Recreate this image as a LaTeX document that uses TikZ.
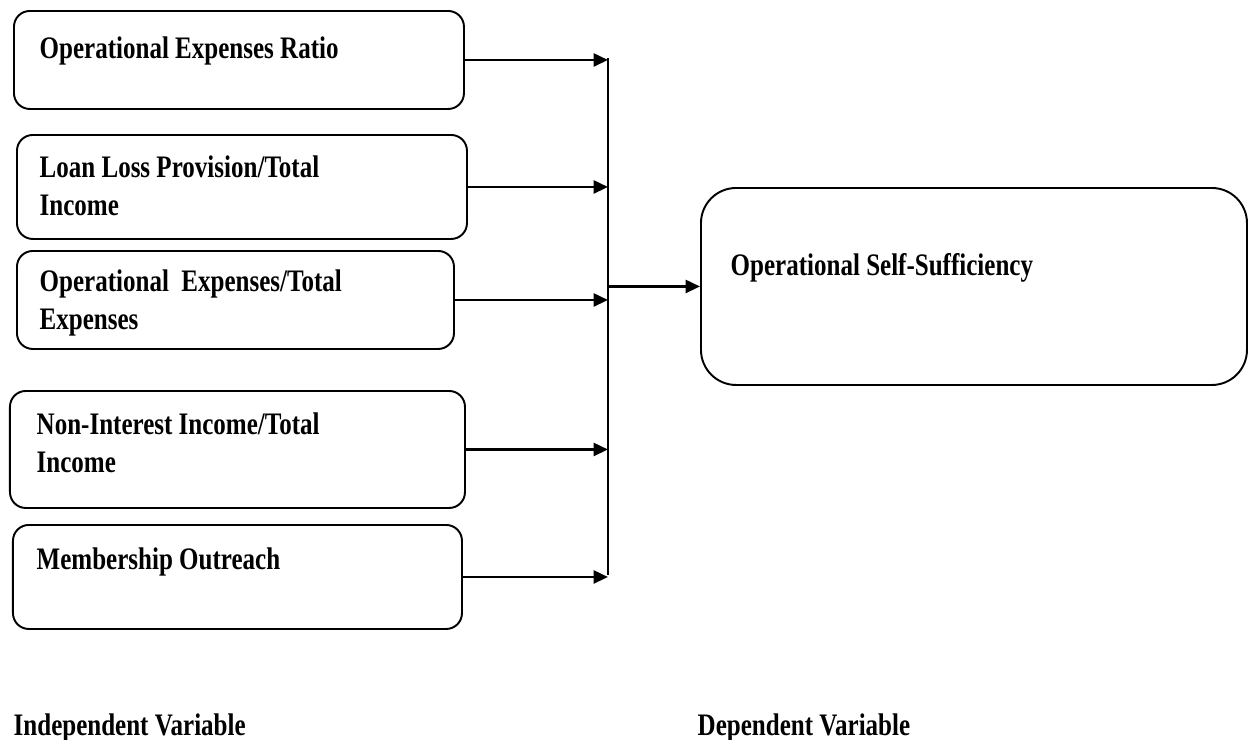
\documentclass[tikz,border=0pt]{standalone}
\usepackage{fontspec}
\setmainfont{Liberation Serif}[FakeStretch=0.8]
\usetikzlibrary{arrows.meta, positioning, calc}

\begin{document}
\begin{tikzpicture}[font=\fontsize{8.9}{10.6}\selectfont\bfseries,
    varbox/.style={draw, line width=0.55pt, rounded corners=4.5pt, anchor=north west, inner sep=0pt},
    varlbl/.style={anchor=base west, inner sep=0pt, align=left},
    link/.style={-{Triangle[length=1.45mm, width=1.3mm]}, line width=0.8pt}]
    \useasboundingbox (0,0) rectangle (12.54,-7.39);
    % independent variables
    \node[varbox, minimum width=4.50cm, minimum height=0.98cm] (opex) at (0.13,-0.10) {};
    \node[varbox, minimum width=4.50cm, minimum height=1.04cm] (llp) at (0.16,-1.34) {};
    \node[varbox, minimum width=4.37cm, minimum height=0.98cm] (opte) at (0.16,-2.50) {};
    \node[varbox, minimum width=4.55cm, minimum height=1.17cm] (nii) at (0.09,-3.90) {};
    \node[varbox, minimum width=4.49cm, minimum height=1.04cm] (memb) at (0.12,-5.24) {};
    \node[varlbl] (opexlbl) at (0.39,-0.58) {Operational Expenses Ratio};
    \node[varlbl] (llplbl) at (0.39,-2.15) {Loan Loss Provision/Total\\Income};
    \node[varlbl] (optelbl) at (0.39,-3.29) {Operational\ \ Expenses/Total\\Expenses};
    \node[varlbl] (niilbl) at (0.36,-4.72) {Non-Interest Income/Total\\Income};
    \node[varlbl] (memblbl) at (0.36,-5.69) {Membership Outreach};
    % dependent variable
    \node[varbox, rounded corners=10pt, minimum width=5.46cm, minimum height=1.97cm] (oss) at (7.00,-1.87) {};
    \node[varlbl] (osslbl) at (7.30,-2.75) {Operational Self-Sufficiency};
    % connectors
    \coordinate (bustop) at (6.08,-0.58);
    \coordinate (busbot) at (6.08,-5.75);
    \draw[line width=0.55pt] (bustop) -- (busbot);
    \foreach \v in {opex,llp,opte,nii,memb}
        \draw[link] (\v.east) -- (\v.east -| bustop);
    \draw[link] (oss.west -| bustop) -- (oss.west);
    % captions
    \node[varlbl] (indep) at (0.13,-7.35) {Independent Variable};
    \node[varlbl] (dep) at (6.97,-7.35) {Dependent Variable};
\end{tikzpicture}
\end{document}
